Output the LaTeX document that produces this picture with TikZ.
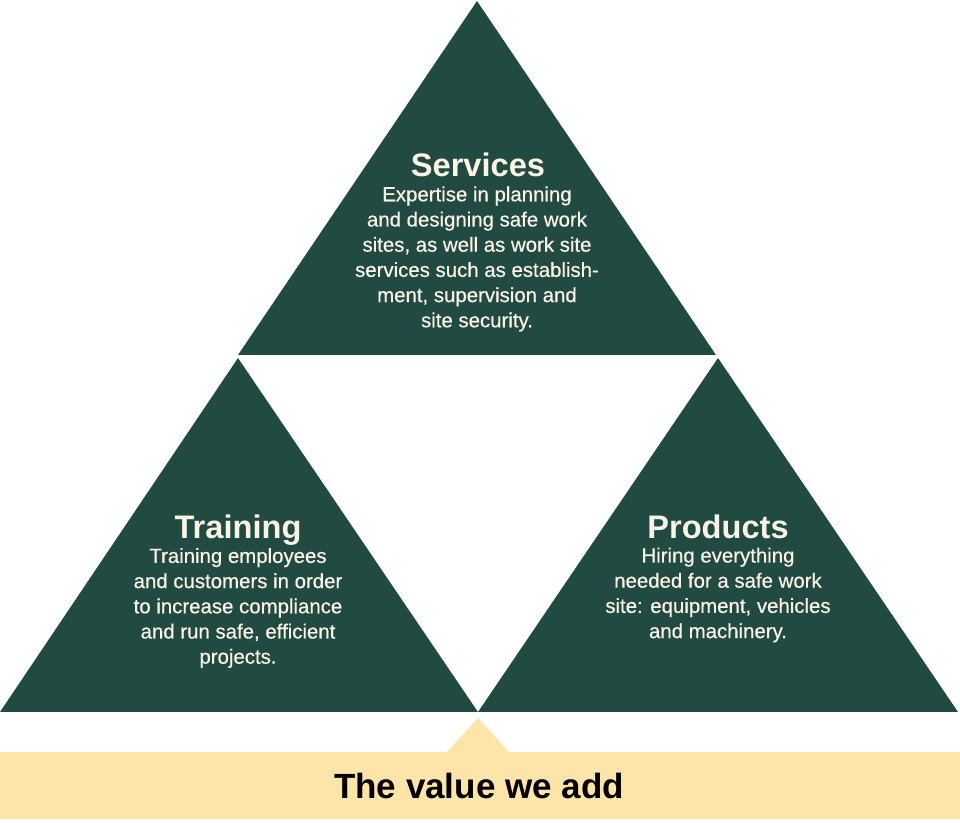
\documentclass[tikz,border=0pt]{standalone}
\usepackage{fontspec}
\setmainfont{Liberation Sans}
\newfontfamily\medfont[FakeBold=0.5]{Liberation Sans}
\definecolor{pine}{HTML}{214A42}
\definecolor{sand}{HTML}{FDE4A9}
\definecolor{cream}{HTML}{FBF3E4}

\begin{document}
\begin{tikzpicture}[x=0.5pt, y=-0.5pt,
        title/.style={text=cream, text depth=0pt, font=\fontsize{16.3}{18}\selectfont\bfseries},
        body/.style={text=cream, align=center, font=\medfont\fontsize{10.2}{12.6}\selectfont}]
        \useasboundingbox (0,0) rectangle (960,823);
        % Draw triangles
        \fill[pine] (477,1) -- (716,355) -- (238,355) -- cycle;
        \fill[pine] (238,358) -- (478,712) -- (0,712) -- cycle;
        \fill[pine] (718,358) -- (958,712) -- (478,712) -- cycle;
        % Draw banner
        \fill[sand] (0,752) rectangle (960,819);
        \fill[sand] (447,752) -- (478,718) -- (509,752) -- cycle;
        % Services
        \node[title] (services) at (478,165) {Services};
        \node[body] (servicesText) at (477,259) {Expertise in planning\\and designing safe work\\sites, as well as work site\\services such as establish-\\ment, supervision and\\site security.};
        % Training
        \node[title] (training) at (238,527) {Training};
        \node[body] (trainingText) at (238,608) {Training employees\\and customers in order\\to increase compliance\\and run safe, efficient\\projects.};
        % Products
        \node[title] (products) at (718,527) {Products};
        \node[body] (productsText) at (718,595) {Hiring everything\\needed for a safe work\\site: equipment, vehicles\\and machinery.};
        % Value
        \node[font=\fontsize{17.5}{20}\selectfont\bfseries] (value) at (479,786) {The value we add};
    \end{tikzpicture}
\end{document}
